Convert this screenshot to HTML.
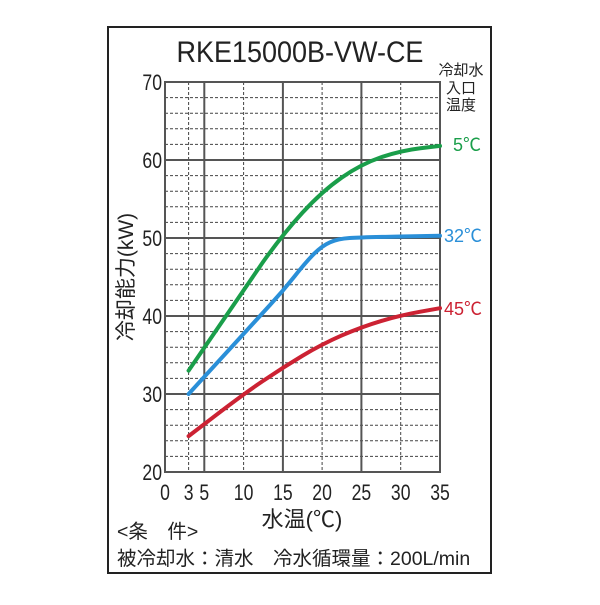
<!DOCTYPE html>
<html><head><meta charset="utf-8"><style>
body{margin:0;background:#fff}
svg text{font-family:"Liberation Sans","Noto Sans CJK JP",sans-serif}
</style></head><body>
<svg width="600" height="600" viewBox="0 0 600 600" xmlns="http://www.w3.org/2000/svg">
<rect x="108" y="27" width="383" height="546" fill="none" stroke="#222" stroke-width="2"/>
<text x="300" y="62" font-size="30" text-anchor="middle" fill="#222" transform="translate(300 0) scale(0.9 1) translate(-300 0)">RKE15000B-VW-CE</text>
<g stroke="#444" stroke-width="1" stroke-dasharray="3,2">
<line x1="165" x2="440" y1="456.4" y2="456.4"/><line x1="165" x2="440" y1="440.8" y2="440.8"/><line x1="165" x2="440" y1="425.2" y2="425.2"/><line x1="165" x2="440" y1="409.6" y2="409.6"/>
<line x1="165" x2="440" y1="378.4" y2="378.4"/><line x1="165" x2="440" y1="362.8" y2="362.8"/><line x1="165" x2="440" y1="347.2" y2="347.2"/><line x1="165" x2="440" y1="331.6" y2="331.6"/>
<line x1="165" x2="440" y1="300.4" y2="300.4"/><line x1="165" x2="440" y1="284.8" y2="284.8"/><line x1="165" x2="440" y1="269.2" y2="269.2"/><line x1="165" x2="440" y1="253.6" y2="253.6"/>
<line x1="165" x2="440" y1="222.4" y2="222.4"/><line x1="165" x2="440" y1="206.8" y2="206.8"/><line x1="165" x2="440" y1="191.2" y2="191.2"/><line x1="165" x2="440" y1="175.6" y2="175.6"/>
<line x1="165" x2="440" y1="144.4" y2="144.4"/><line x1="165" x2="440" y1="128.8" y2="128.8"/><line x1="165" x2="440" y1="113.2" y2="113.2"/><line x1="165" x2="440" y1="97.6" y2="97.6"/>
<line x1="188.6" x2="188.6" y1="82" y2="472"/><line x1="243.6" x2="243.6" y1="82" y2="472"/><line x1="322.1" x2="322.1" y1="82" y2="472"/><line x1="400.7" x2="400.7" y1="82" y2="472"/>
</g>
<g stroke="#555" stroke-width="2">
<line x1="165" x2="440" y1="394" y2="394"/><line x1="165" x2="440" y1="316" y2="316"/><line x1="165" x2="440" y1="238" y2="238"/><line x1="165" x2="440" y1="160" y2="160"/>
<line x1="204.3" x2="204.3" y1="82" y2="472"/><line x1="282.9" x2="282.9" y1="82" y2="472"/><line x1="361.4" x2="361.4" y1="82" y2="472"/>
<rect x="165" y="82" width="275" height="390" fill="none"/>
</g>
<g fill="none" stroke-width="4" stroke-linecap="round" stroke-linejoin="round">
<path stroke="#1a9e4a" d="M188.6,370.6 L263,262 Q282.9,234.1 302.5,212.65 Q322.1,191.2 341.75,177.55 Q361.4,163.9 381.05,157.25 Q400.7,150.6 420.35,148.25 L440,145.9"/>
<path stroke="#2a8fd8" d="M188.6,394 L270,305 Q282.9,291 294.65,276.2 Q306.4,261.4 314.25,253.6 Q322.1,245.8 330,242.3 Q337.9,238.8 349.65,238 Q361.4,237.2 400.7,236.45 L440,235.7"/>
<path stroke="#cc2233" d="M188.6,436.1 L216.1,415.05 Q243.6,394 263.25,380.75 Q282.9,367.5 302.5,355.75 Q322.1,344 341.75,335.45 Q361.4,326.9 381.05,321.05 Q400.7,315.2 420.35,311.7 L440,308.2"/>
</g>
<g font-size="22" fill="#222" text-anchor="end">
<text x="162" y="90" transform="translate(162 0) scale(0.8 1) translate(-162 0)">70</text>
<text x="162" y="168" transform="translate(162 0) scale(0.8 1) translate(-162 0)">60</text>
<text x="162" y="246" transform="translate(162 0) scale(0.8 1) translate(-162 0)">50</text>
<text x="162" y="324" transform="translate(162 0) scale(0.8 1) translate(-162 0)">40</text>
<text x="162" y="402" transform="translate(162 0) scale(0.8 1) translate(-162 0)">30</text>
<text x="162" y="480" transform="translate(162 0) scale(0.8 1) translate(-162 0)">20</text>
</g>
<g font-size="22" fill="#222" text-anchor="middle">
<text x="165" y="500" transform="translate(165 0) scale(0.8 1) translate(-165 0)">0</text>
<text x="188.6" y="500" transform="translate(188.6 0) scale(0.8 1) translate(-188.6 0)">3</text>
<text x="204.3" y="500" transform="translate(204.3 0) scale(0.8 1) translate(-204.3 0)">5</text>
<text x="243.6" y="500" transform="translate(243.6 0) scale(0.8 1) translate(-243.6 0)">10</text>
<text x="282.9" y="500" transform="translate(282.9 0) scale(0.8 1) translate(-282.9 0)">15</text>
<text x="322.1" y="500" transform="translate(322.1 0) scale(0.8 1) translate(-322.1 0)">20</text>
<text x="361.4" y="500" transform="translate(361.4 0) scale(0.8 1) translate(-361.4 0)">25</text>
<text x="400.7" y="500" transform="translate(400.7 0) scale(0.8 1) translate(-400.7 0)">30</text>
<text x="440" y="500" transform="translate(440 0) scale(0.8 1) translate(-440 0)">35</text>
<text x="302" y="527" font-size="22">水温(℃)</text>
</g>
<text x="133" y="277" font-size="21" fill="#222" text-anchor="middle" transform="rotate(-90 133 277)">冷却能力(kW)</text>
<g font-size="15" fill="#222" text-anchor="middle">
<text x="461" y="75">冷却水</text><text x="461" y="93">入口</text><text x="461" y="110">温度</text>
</g>
<g font-size="18" text-anchor="middle">
<text x="467" y="151" fill="#1a9e4a">5℃</text>
<text x="463" y="242" fill="#2a8fd8">32℃</text>
<text x="463" y="315" fill="#cc2233">45℃</text>
</g>
<g font-size="19.5" fill="#222">
<text x="117" y="538">&lt;条　件&gt;</text>
<text x="117" y="565">被冷却水：清水　冷水循環量：200L/min</text>
</g>
</svg>
</body></html>
